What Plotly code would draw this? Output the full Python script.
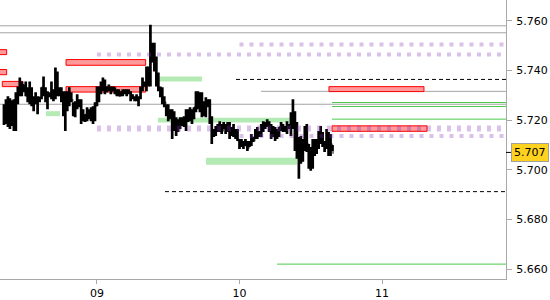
import plotly.graph_objects as go
import pandas as pd

# ---------------- data ----------------
bar_start = "2024-01-08 08:20"
bar_freq = "20min"
first_open = 5.722

highs = [
    5.7264, 5.7284, 5.7296, 5.7288, 5.7280, 5.7284, 5.7312, 5.7336, 5.7372, 5.7356,
    5.7344, 5.7356, 5.7332, 5.7356, 5.7332, 5.7296, 5.7312, 5.7296, 5.7292, 5.7332,
    5.7376, 5.7332, 5.7316, 5.7312, 5.7356, 5.7324, 5.7412, 5.7396, 5.7332, 5.7332,
    5.7316, 5.7316, 5.7316, 5.7332, 5.7312, 5.7272, 5.7276, 5.7304, 5.7284, 5.7284,
    5.7244, 5.7224, 5.7252, 5.7244, 5.7252, 5.7256, 5.7272, 5.7336, 5.7336, 5.7356,
    5.7372, 5.7364, 5.7336, 5.7344, 5.7336, 5.7336, 5.7332, 5.7324, 5.7324, 5.7316,
    5.7324, 5.7324, 5.7324, 5.7324, 5.7316, 5.7304, 5.7296, 5.7304, 5.7296, 5.7336,
    5.7372, 5.7356, 5.7416, 5.7416, 5.7584, 5.7512, 5.7512, 5.7456, 5.7392, 5.7336,
    5.7332, 5.7296, 5.7264, 5.7264, 5.7244, 5.7244, 5.7236, 5.7212, 5.7204, 5.7212,
    5.7212, 5.7216, 5.7244, 5.7244, 5.7252, 5.7244, 5.7252, 5.7316, 5.7316, 5.7312,
    5.7312, 5.7276, 5.7292, 5.7284, 5.7284, 5.7216, 5.7164, 5.7176, 5.7184, 5.7196,
    5.7184, 5.7192, 5.7184, 5.7192, 5.7192, 5.7172, 5.7184, 5.7164, 5.7164, 5.7124,
    5.7124, 5.7116, 5.7124, 5.7116, 5.7116, 5.7144, 5.7132, 5.7164, 5.7172, 5.7156,
    5.7184, 5.7196, 5.7192, 5.7204, 5.7196, 5.7184, 5.7176, 5.7172, 5.7164, 5.7172,
    5.7192, 5.7184, 5.7176, 5.7196, 5.7184, 5.7232, 5.7284, 5.7236, 5.7192, 5.7132,
    5.7136, 5.7124, 5.7176, 5.7184, 5.7104, 5.7092, 5.7124, 5.7124, 5.7124, 5.7156,
    5.7176, 5.7152, 5.7116, 5.7164, 5.7152, 5.7144, 5.7100,
]
lows = [
    5.7180, 5.7184, 5.7172, 5.7164, 5.7176, 5.7156, 5.7156, 5.7264, 5.7296, 5.7296,
    5.7312, 5.7296, 5.7272, 5.7264, 5.7256, 5.7236, 5.7264, 5.7224, 5.7272, 5.7284,
    5.7296, 5.7272, 5.7244, 5.7292, 5.7284, 5.7276, 5.7284, 5.7296, 5.7296, 5.7272,
    5.7216, 5.7156, 5.7236, 5.7256, 5.7272, 5.7216, 5.7212, 5.7244, 5.7252, 5.7184,
    5.7196, 5.7192, 5.7196, 5.7204, 5.7196, 5.7184, 5.7196, 5.7256, 5.7272, 5.7304,
    5.7316, 5.7304, 5.7312, 5.7316, 5.7304, 5.7316, 5.7304, 5.7296, 5.7296, 5.7296,
    5.7296, 5.7304, 5.7296, 5.7304, 5.7276, 5.7284, 5.7276, 5.7276, 5.7256, 5.7284,
    5.7316, 5.7336, 5.7316, 5.7336, 5.7336, 5.7432, 5.7396, 5.7336, 5.7316, 5.7292,
    5.7264, 5.7252, 5.7216, 5.7196, 5.7204, 5.7124, 5.7156, 5.7136, 5.7152, 5.7164,
    5.7176, 5.7172, 5.7156, 5.7192, 5.7196, 5.7184, 5.7204, 5.7232, 5.7244, 5.7232,
    5.7212, 5.7216, 5.7212, 5.7252, 5.7184, 5.7104, 5.7132, 5.7136, 5.7152, 5.7152,
    5.7144, 5.7164, 5.7144, 5.7152, 5.7124, 5.7136, 5.7132, 5.7124, 5.7116, 5.7084,
    5.7092, 5.7084, 5.7096, 5.7076, 5.7092, 5.7096, 5.7112, 5.7124, 5.7124, 5.7132,
    5.7132, 5.7152, 5.7164, 5.7172, 5.7152, 5.7124, 5.7132, 5.7116, 5.7124, 5.7132,
    5.7156, 5.7152, 5.7152, 5.7144, 5.7164, 5.7136, 5.7164, 5.7076, 5.7044, 5.6964,
    5.7024, 5.7032, 5.7076, 5.7072, 5.7004, 5.6996, 5.7004, 5.7056, 5.7064, 5.7084,
    5.7104, 5.7092, 5.7072, 5.7084, 5.7056, 5.7056, 5.7076,
]
closes = [
    5.720, 5.726, 5.718, 5.724, 5.720, 5.727, 5.729, 5.733, 5.731, 5.734,
    5.732, 5.730, 5.732, 5.728, 5.727, 5.728, 5.727, 5.729, 5.729, 5.733,
    5.731, 5.729, 5.730, 5.730, 5.731, 5.731, 5.736, 5.731, 5.731, 5.730,
    5.726, 5.729, 5.729, 5.730, 5.728, 5.725, 5.727, 5.727, 5.727, 5.722,
    5.720, 5.722, 5.721, 5.722, 5.722, 5.725, 5.726, 5.731, 5.732, 5.735,
    5.734, 5.733, 5.733, 5.733, 5.732, 5.733, 5.731, 5.731, 5.730, 5.731,
    5.731, 5.731, 5.731, 5.731, 5.730, 5.729, 5.729, 5.729, 5.729, 5.733,
    5.734, 5.734, 5.736, 5.741, 5.745, 5.745, 5.742, 5.736, 5.733, 5.731,
    5.728, 5.727, 5.723, 5.722, 5.722, 5.717, 5.718, 5.717, 5.718, 5.719,
    5.719, 5.720, 5.721, 5.722, 5.721, 5.723, 5.725, 5.728, 5.728, 5.726,
    5.725, 5.725, 5.727, 5.727, 5.720, 5.715, 5.715, 5.716, 5.717, 5.717,
    5.716, 5.717, 5.716, 5.717, 5.715, 5.715, 5.714, 5.713, 5.712, 5.710,
    5.710, 5.710, 5.710, 5.709, 5.710, 5.713, 5.712, 5.714, 5.714, 5.715,
    5.717, 5.718, 5.718, 5.718, 5.716, 5.715, 5.715, 5.714, 5.715, 5.717,
    5.718, 5.717, 5.717, 5.717, 5.718, 5.720, 5.719, 5.712, 5.708, 5.705,
    5.706, 5.710, 5.714, 5.710, 5.702, 5.703, 5.708, 5.709, 5.711, 5.714,
    5.713, 5.711, 5.710, 5.713, 5.708, 5.710, 5.707,
]
last_price = 5.707

# axis
x_range = ["2024-01-08 07:40", "2024-01-11 20:53"]
y_range = [5.656, 5.7684]
x_tick_days = ["2024-01-09", "2024-01-10", "2024-01-11"]
x_tick_text = ["09", "10", "11"]
y_ticks = [5.66, 5.68, 5.70, 5.72, 5.74, 5.76]

far_left = "2024-01-08 00:00"
# gray horizontal levels
gray_x0 = [far_left, far_left, "2024-01-10 03:37", far_left]
gray_levels = [5.758, 5.7552, 5.7316, 5.7264]
# thin green levels
green_x0 = ["2024-01-10 15:35", "2024-01-10 15:35", "2024-01-10 15:35", "2024-01-10 06:19"]
green_levels = [5.7271, 5.7255, 5.7204, 5.662]
# dashed black levels
dash_x0 = ["2024-01-09 23:25", "2024-01-09 11:27"]
dash_levels = [5.7364, 5.6912]
# purple dotted levels
purple_x0 = ["2024-01-10 00:00", "2024-01-09 00:00", "2024-01-09 00:00", "2024-01-10 00:00"]
purple_levels = [5.7505, 5.7464, 5.7166, 5.7136]
# light green zones
band_x0 = ["2024-01-08 15:25", "2024-01-09 10:16", "2024-01-09 10:16", "2024-01-09 18:22"]
band_x1 = ["2024-01-08 17:46", "2024-01-09 17:41", "2024-01-10 09:31", "2024-01-10 09:41"]
band_lo = [5.7216, 5.7356, 5.7190, 5.7020]
band_hi = [5.7236, 5.7376, 5.7210, 5.7048]
# red zones
rect_x0 = ["2024-01-08 06:00", "2024-01-08 06:00", "2024-01-08 08:03", "2024-01-08 18:47",
           "2024-01-08 18:47", "2024-01-10 15:04", "2024-01-10 15:35"]
rect_x1 = ["2024-01-08 08:47", "2024-01-08 08:47", "2024-01-08 11:32", "2024-01-09 08:12",
           "2024-01-09 08:12", "2024-01-11 07:04", "2024-01-11 07:35"]
rect_lo = [5.7464, 5.7383, 5.7335, 5.7421, 5.7313, 5.7315, 5.7155]
rect_hi = [5.7484, 5.7404, 5.7356, 5.7444, 5.7335, 5.7335, 5.7177]

# ---------------- figure ----------------
times = pd.date_range(bar_start, periods=len(highs), freq=bar_freq)
opens = [first_open] + closes[:-1]

fig = go.Figure()
fig.add_trace(go.Ohlc(
    x=times, open=opens, high=highs, low=lows, close=closes,
    increasing=dict(line=dict(color="#000000", width=2.7)),
    decreasing=dict(line=dict(color="#000000", width=2.7)),
    tickwidth=0.5, hoverinfo="skip",
))

x_end = x_range[1]
for x0, x1, lo, hi in zip(band_x0, band_x1, band_lo, band_hi):
    fig.add_shape(type="rect", xref="x", yref="y", x0=x0, x1=x1, y0=lo, y1=hi,
                  fillcolor="#b4eab4", line=dict(width=0), layer="below")
for x0, lv in zip(gray_x0, gray_levels):
    fig.add_shape(type="line", xref="x", yref="y", x0=x0, x1=x_end, y0=lv, y1=lv,
                  line=dict(color="#a4a4a4", width=1), layer="below")
for x0, lv in zip(green_x0, green_levels):
    fig.add_shape(type="line", xref="x", yref="y", x0=x0, x1=x_end, y0=lv, y1=lv,
                  line=dict(color="#4ccb4c", width=1), layer="below")
for x0, lv in zip(dash_x0, dash_levels):
    fig.add_shape(type="line", xref="x", yref="y", x0=x0, x1=x_end, y0=lv, y1=lv,
                  line=dict(color="#000000", width=1, dash="4px,3px"), layer="below")
for x0, x1, lo, hi in zip(rect_x0, rect_x1, rect_lo, rect_hi):
    fig.add_shape(type="rect", xref="x", yref="y", x0=x0, x1=x1, y0=lo, y1=hi,
                  fillcolor="#ff9a9a", line=dict(color="#ff0000", width=1), layer="below")
purple_widths = [4, 4, 6, 4]
for x0, lv, w in zip(purple_x0, purple_levels, purple_widths):
    fig.add_shape(type="line", xref="x", yref="y", x0=x0, x1=x_end, y0=lv, y1=lv,
                  line=dict(color="rgba(133,50,183,0.3)", width=w, dash="4px,6px"),
                  layer="above")

# current price marker
fig.add_shape(type="line", xref="paper", yref="y", x0=1.0, x1=1.01,
              y0=last_price, y1=last_price, line=dict(color="#000000", width=1))
fig.add_annotation(xref="paper", yref="y", x=1.0, y=last_price, xanchor="left",
                   xshift=5, text=f"{last_price:.3f}", showarrow=False,
                   bgcolor="#ffd21f", bordercolor="#a0a0a0", borderwidth=1, borderpad=2,
                   font=dict(family="DejaVu Sans", size=11, color="#000000"))

fig.update_layout(
    width=550, height=300,
    margin=dict(l=0, r=44, t=0, b=19),
    plot_bgcolor="white", paper_bgcolor="white",
    showlegend=False,
    font=dict(family="DejaVu Sans", size=11, color="#000000"),
    xaxis=dict(
        type="date", range=x_range,
        tickvals=x_tick_days, ticktext=x_tick_text,
        ticks="outside", ticklen=4, tickcolor="#a8a8a8",
        showline=True, linecolor="#a8a8a8", linewidth=1,
        showgrid=False, zeroline=False,
        rangeslider=dict(visible=False),
    ),
    yaxis=dict(
        side="right", range=y_range,
        tickvals=y_ticks, tickformat=".3f",
        ticks="outside", ticklen=5, tickcolor="#a8a8a8",
        ticklabelstandoff=2,
        showline=True, linecolor="#a8a8a8", linewidth=1,
        showgrid=False, zeroline=False,
    ),
)

fig.write_html("out.html")
